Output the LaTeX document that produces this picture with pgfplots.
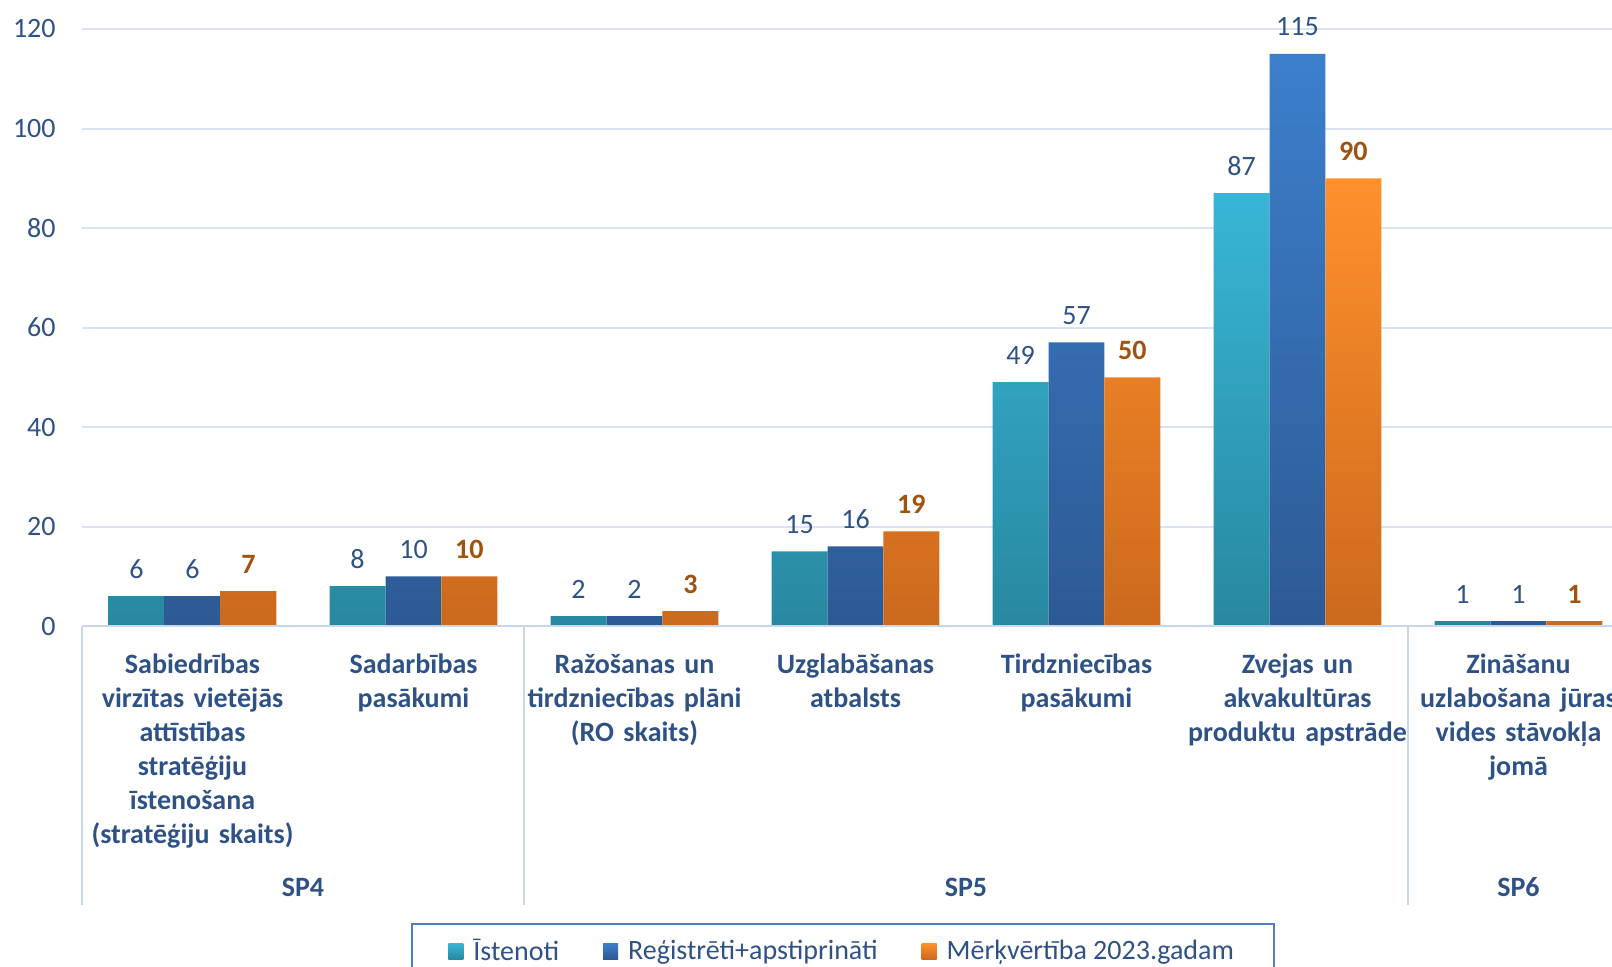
\documentclass[border=0pt]{standalone}
\usepackage{fontspec}
\setmainfont{Carlito}
\usepackage{pgfplots}
\pgfplotsset{compat=1.18}

\definecolor{tealtop}{HTML}{38B6D6}
\definecolor{tealbot}{HTML}{2888A0}
\definecolor{bluetop}{HTML}{3C7FCC}
\definecolor{bluebot}{HTML}{2D5A94}
\definecolor{orgtop}{HTML}{FF902C}
\definecolor{orgbot}{HTML}{CB691D}
\definecolor{labelblue}{HTML}{2F5286}
\definecolor{labelbrown}{HTML}{A0520F}
\definecolor{gridblue}{HTML}{D9E3F1}
\definecolor{sepblue}{HTML}{C8D7EC}
\definecolor{legendblue}{HTML}{4F7FBF}

\newcommand\fs{\fontsize{14pt}{17pt}\selectfont}

\begin{document}
\begin{tikzpicture}
\begin{axis}[
    at={(0,0)}, anchor=south west,
    scale only axis,
    width=773.5pt, height=298.5pt,
    xmin=-0.5, xmax=6.5,
    ymin=0, ymax=120,
    clip=false,
    ybar=0pt,
    bar width=0.253,
    axis line style={draw=none},
    tick style={draw=none},
    major tick length=0pt,
    ytick={0,20,...,120},
    ymajorgrids,
    grid style={gridblue, line width=1pt},
    yticklabel style={font=\fs, text=labelblue, anchor=east, inner sep=0pt, xshift=-13pt},
    /pgf/number format/assume math mode=true,
    xtick={0,...,6},
    xticklabels={%
        Sabiedrības\\virzītas vietējās\\attīstības\\stratēģiju\\īstenošana\\(stratēģiju skaits),
        Sadarbības\\pasākumi,
        Ražošanas un\\tirdzniecības plāni\\(RO skaits),
        Uzglabāšanas\\atbalsts,
        Tirdzniecības\\pasākumi,
        Zvejas un\\akvakultūras\\produktu apstrāde,
        Zināšanu\\uzlabošana jūras\\vides stāvokļa\\jomā},
    xticklabel style={font=\bfseries\fs, text=labelblue, text width=110pt, align=center,
        anchor=north, inner sep=0pt, yshift=-11.6pt, execute at begin node=\strut},
    nodes near coords,
    nodes near coords style={font=\fs, text=labelblue, anchor=base, yshift=9pt,
        /pgf/number format/assume math mode=true},
    legend style={at={(0.492,-0.4975)}, anchor=north, draw=legendblue, line width=1pt,
        font=\fs, text=labelblue, inner xsep=18pt, inner ysep=5.5pt,
        /tikz/every odd column/.append style={column sep=3pt},
        /tikz/every even column/.append style={column sep=20pt}},
    legend columns=3,
    legend image code/.code={\path[#1,draw=none] (0pt,-4pt) rectangle (7.5pt,4pt);},
]
% Istenoti
\addplot[top color=tealtop, bottom color=tealbot, draw=none, bar shift=-0.253]
    coordinates {(0,6) (1,8) (2,2) (3,15) (4,49) (5,87) (6,1)};
% Registreti+apstiprinati
\addplot[top color=bluetop, bottom color=bluebot, draw=none, bar shift=0]
    coordinates {(0,6) (1,10) (2,2) (3,16) (4,57) (5,115) (6,1)};
% Merkvertiba 2023.gadam
\addplot[top color=orgtop, bottom color=orgbot, draw=none, bar shift=0.253,
    nodes near coords style={font=\bfseries\fs, text=labelbrown}]
    coordinates {(0,7) (1,10) (2,3) (3,19) (4,50) (5,90) (6,1)};
\legend{Īstenoti, Reģistrēti+apstiprināti, Mērķvērtība 2023.gadam}

% group separators and group names
\draw[sepblue, line width=1pt] (axis cs:-0.5,0) -- ([yshift=-139.5pt]axis cs:-0.5,0);
\draw[sepblue, line width=1pt] (axis cs:1.5,0) -- ([yshift=-139.5pt]axis cs:1.5,0);
\draw[sepblue, line width=1pt] (axis cs:5.5,0) -- ([yshift=-139.5pt]axis cs:5.5,0);
\draw[sepblue, line width=1pt] (axis cs:-0.5,0) -- (axis cs:6.5,0);
\node[font=\bfseries\fs, text=labelblue, anchor=base] at ([yshift=-135pt]axis cs:0.5,0) {SP4};
\node[font=\bfseries\fs, text=labelblue, anchor=base] at ([yshift=-135pt]axis cs:3.5,0) {SP5};
\node[font=\bfseries\fs, text=labelblue, anchor=base] at ([yshift=-135pt]axis cs:6,0) {SP6};
\end{axis}
\pgfresetboundingbox
\useasboundingbox (-41pt,-170pt) rectangle (765pt,313pt);
\end{tikzpicture}
\end{document}
